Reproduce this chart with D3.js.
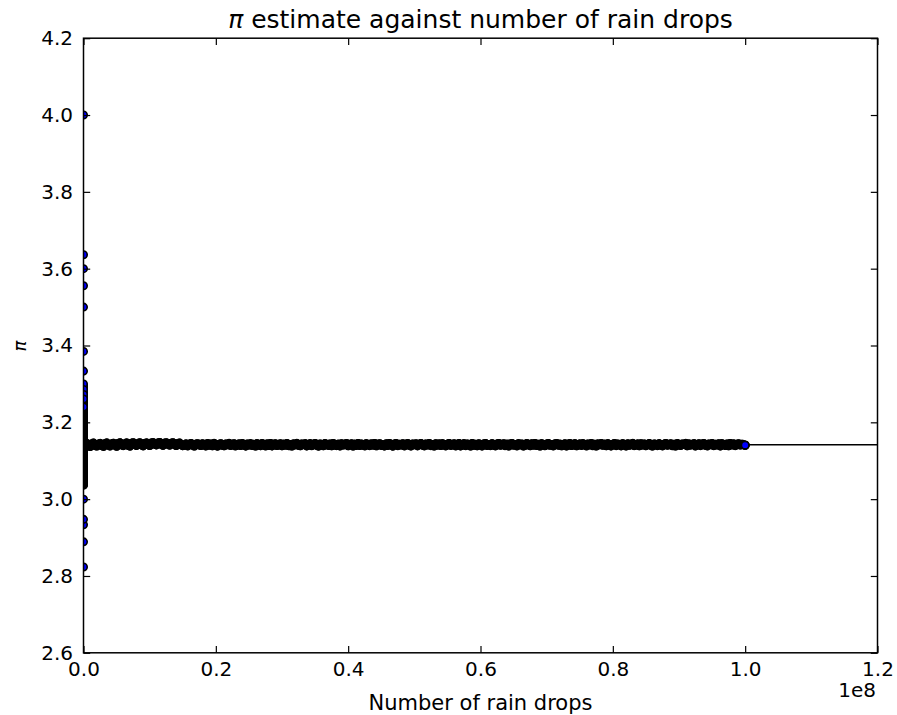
<!DOCTYPE html>
<html><head><meta charset="utf-8">
<script src="https://cdn.jsdelivr.net/npm/d3@7/dist/d3.min.js"></script>
<style>body{margin:0;background:#fff}svg{display:block}</style>
</head><body><svg id="c" width="897" height="715"></svg>
<script>
// ---- data ----
const PI_VALUE = 3.14159;
const xTickValues = [0, 2e7, 4e7, 6e7, 8e7, 1e8, 1.2e8];
const xTickLabels = ["0.0", "0.2", "0.4", "0.6", "0.8", "1.0", "1.2"];
const yTickValues = [2.6, 2.8, 3.0, 3.2, 3.4, 3.6, 3.8, 4.0, 4.2];
const yTickLabels = ["2.6", "2.8", "3.0", "3.2", "3.4", "3.6", "3.8", "4.0", "4.2"];

// first drops: isolated, clearly visible estimates
const sparseN = [1, 4, 6, 8, 9, 10, 11, 13, 15, 17, 18, 19, 20, 21, 22, 23, 25];
const sparseEst = [4.0, 3.0, 3.3333, 3.5, 3.5556, 3.6, 3.6364, 3.3846, 2.9333, 2.8235, 2.8889, 2.9474, 3.3, 3.2857, 3.2727, 3.2609, 3.24];

// early convergence (N up to 1e5, all near x = 0)
const midN = [26,27,28,29,30,32,33,34,36,37,38,39,40,41,42,43,44,45,46,47,48,49,50,52,55,60,65,70,75,80,85,90,95,100,
  110,120,130,140,150,160,170,180,190,200,220,240,260,280,300,330,360,400,450,500,550,600,700,800,900,1000,1200,1400,1600,1800,
  2000,2500,3000,3500,4000,5000,6000,7000,8000,10000,12000,15000,20000,25000,30000,40000,50000,60000,80000,100000];
const midEst = [3.0769,3.1111,3.1429,3.1034,3.2,3.2813,3.037,3.2941,3.2222,3.2432,3.1579,3.2051,3.1,3.2195,3.0476,3.0435,3.0909,3.1111,3.1304,3.0638,
  3.1667,3.2653,3.2,3.0769,3.2727,3.2667,3.2,3.1429,3.0933,3.05,3.0588,3.1111,3.1579,3.2,
  3.2364,3.2,3.1692,3.1143,3.0667,3.075,3.1059,3.1333,3.1789,3.2,3.1818,3.15,3.1231,3.0857,3.0933,3.1152,3.1444,3.17,3.1822,3.168,
  3.1491,3.1267,3.1143,3.125,3.1378,3.152,3.1633,3.1571,3.145,3.1311,3.128,3.1376,3.1493,3.1531,3.147,3.1368,3.1393,3.1457,3.1465,3.1404,
  3.1387,3.1429,3.1452,3.1398,3.1412,3.1427,3.1409,3.1418,3.1422,3.1413];

// long run, N in millions of drops
const bandNMillions = [
  0.25,0.5,0.75,1,1.25,1.5,1.75,2,2.25,2.5,2.75,3,3.25,3.5,3.75,4,4.25,4.5,4.75,5,
  5.25,5.5,5.75,6,6.25,6.5,6.75,7,7.25,7.5,7.75,8,8.25,8.5,8.75,9,9.25,9.5,9.75,10,
  10.25,10.5,10.75,11,11.25,11.5,11.75,12,12.25,12.5,12.75,13,13.25,13.5,13.75,14,14.25,14.5,14.75,15,
  15.25,15.5,15.75,16,16.25,16.5,16.75,17,17.25,17.5,17.75,18,18.25,18.5,18.75,19,19.25,19.5,19.75,20,
  20.25,20.5,20.75,21,21.25,21.5,21.75,22,22.25,22.5,22.75,23,23.25,23.5,23.75,24,24.25,24.5,24.75,25,
  25.25,25.5,25.75,26,26.25,26.5,26.75,27,27.25,27.5,27.75,28,28.25,28.5,28.75,29,29.25,29.5,29.75,30,
  30.25,30.5,30.75,31,31.25,31.5,31.75,32,32.25,32.5,32.75,33,33.25,33.5,33.75,34,34.25,34.5,34.75,35,
  35.25,35.5,35.75,36,36.25,36.5,36.75,37,37.25,37.5,37.75,38,38.25,38.5,38.75,39,39.25,39.5,39.75,40,
  40.25,40.5,40.75,41,41.25,41.5,41.75,42,42.25,42.5,42.75,43,43.25,43.5,43.75,44,44.25,44.5,44.75,45,
  45.25,45.5,45.75,46,46.25,46.5,46.75,47,47.25,47.5,47.75,48,48.25,48.5,48.75,49,49.25,49.5,49.75,50,
  50.25,50.5,50.75,51,51.25,51.5,51.75,52,52.25,52.5,52.75,53,53.25,53.5,53.75,54,54.25,54.5,54.75,55,
  55.25,55.5,55.75,56,56.25,56.5,56.75,57,57.25,57.5,57.75,58,58.25,58.5,58.75,59,59.25,59.5,59.75,60,
  60.25,60.5,60.75,61,61.25,61.5,61.75,62,62.25,62.5,62.75,63,63.25,63.5,63.75,64,64.25,64.5,64.75,65,
  65.25,65.5,65.75,66,66.25,66.5,66.75,67,67.25,67.5,67.75,68,68.25,68.5,68.75,69,69.25,69.5,69.75,70,
  70.25,70.5,70.75,71,71.25,71.5,71.75,72,72.25,72.5,72.75,73,73.25,73.5,73.75,74,74.25,74.5,74.75,75,
  75.25,75.5,75.75,76,76.25,76.5,76.75,77,77.25,77.5,77.75,78,78.25,78.5,78.75,79,79.25,79.5,79.75,80,
  80.25,80.5,80.75,81,81.25,81.5,81.75,82,82.25,82.5,82.75,83,83.25,83.5,83.75,84,84.25,84.5,84.75,85,
  85.25,85.5,85.75,86,86.25,86.5,86.75,87,87.25,87.5,87.75,88,88.25,88.5,88.75,89,89.25,89.5,89.75,90,
  90.25,90.5,90.75,91,91.25,91.5,91.75,92,92.25,92.5,92.75,93,93.25,93.5,93.75,94,94.25,94.5,94.75,95,
  95.25,95.5,95.75,96,96.25,96.5,96.75,97,97.25,97.5,97.75,98,98.25,98.5,98.75,99,99.25,99.5,99.75,100];
const bandEst = [
  3.1392,3.1447,3.1418,3.1371,3.1436,3.1459,3.1402,3.1384,3.1428,3.1451,3.1397,3.1375,3.1441,3.1463,3.1409,3.1387,3.1433,3.1455,3.1412,3.1379,
  3.1448,3.1466,3.1421,3.1394,3.1438,3.1461,3.1405,3.1383,3.1452,3.1469,3.1427,3.1399,3.1443,3.1467,3.1416,3.1389,3.1449,3.1464,3.1431,3.1395,
  3.1458,3.1471,3.1437,3.1412,3.1462,3.1474,3.1429,3.1401,3.1456,3.1468,3.1434,3.1408,3.1453,3.1466,3.1425,3.1398,3.1447,3.1459,3.1419,3.1393,
  3.1402,3.1437,3.1391,3.1426,3.1448,3.1409,3.1385,3.1431,3.1444,3.1413,3.1396,3.1439,3.1421,3.1387,3.1445,3.1406,3.1432,3.1392,3.1447,3.1418,
  3.1384,3.1429,3.1441,3.1403,3.1389,3.1436,3.1415,3.1449,3.1398,3.1424,3.1442,3.1388,3.1411,3.1438,3.1395,3.1446,3.1419,3.1386,3.1433,3.1407,
  3.1443,3.1399,3.1428,3.1385,3.1440,3.1412,3.1393,3.1447,3.1422,3.1390,3.1435,3.1404,3.1448,3.1386,3.1425,3.1443,3.1397,3.1417,3.1439,3.1388,
  3.1430,3.1408,3.1446,3.1394,3.1421,3.1384,3.1437,3.1414,3.1449,3.1401,3.1391,3.1434,3.1420,3.1444,3.1387,3.1410,3.1441,3.1396,3.1427,3.1448,
  3.1405,3.1383,3.1436,3.1418,3.1392,3.1445,3.1423,3.1400,3.1438,3.1389,3.1447,3.1413,3.1395,3.1431,3.1386,3.1442,3.1409,3.1426,3.1448,3.1393,
  3.1416,3.1440,3.1385,3.1429,3.1403,3.1446,3.1398,3.1435,3.1411,3.1388,3.1444,3.1421,3.1394,3.1437,3.1407,3.1449,3.1390,3.1425,3.1442,3.1399,
  3.1414,3.1387,3.1439,3.1404,3.1447,3.1419,3.1384,3.1432,3.1445,3.1396,3.1428,3.1409,3.1443,3.1391,3.1424,3.1448,3.1402,3.1386,3.1436,3.1417,
  3.1440,3.1393,3.1430,3.1446,3.1406,3.1389,3.1434,3.1412,3.1449,3.1397,3.1422,3.1385,3.1441,3.1408,3.1437,3.1395,3.1444,3.1420,3.1388,3.1431,
  3.1447,3.1401,3.1415,3.1439,3.1392,3.1426,3.1445,3.1387,3.1410,3.1442,3.1398,3.1433,3.1419,3.1384,3.1448,3.1405,3.1427,3.1391,3.1440,3.1413,
  3.1386,3.1436,3.1446,3.1400,3.1423,3.1394,3.1443,3.1411,3.1389,3.1432,3.1449,3.1404,3.1418,3.1441,3.1396,3.1429,3.1385,3.1438,3.1447,3.1407,
  3.1421,3.1390,3.1444,3.1414,3.1435,3.1387,3.1402,3.1446,3.1425,3.1393,3.1439,3.1410,3.1448,3.1399,3.1428,3.1384,3.1442,3.1416,3.1395,3.1434,
  3.1445,3.1403,3.1420,3.1388,3.1437,3.1449,3.1406,3.1431,3.1392,3.1413,3.1440,3.1386,3.1426,3.1447,3.1398,3.1419,3.1443,3.1391,3.1409,3.1436,
  3.1401,3.1444,3.1422,3.1389,3.1433,3.1412,3.1448,3.1395,3.1427,3.1385,3.1438,3.1417,3.1446,3.1404,3.1430,3.1392,3.1441,3.1408,3.1387,3.1424,
  3.1447,3.1399,3.1435,3.1414,3.1390,3.1443,3.1421,3.1386,3.1439,3.1405,3.1428,3.1449,3.1396,3.1415,3.1437,3.1388,3.1444,3.1411,3.1432,3.1393,
  3.1420,3.1446,3.1402,3.1384,3.1436,3.1425,3.1397,3.1442,3.1410,3.1389,3.1431,3.1448,3.1406,3.1418,3.1440,3.1394,3.1427,3.1385,3.1445,3.1413,
  3.1399,3.1434,3.1421,3.1447,3.1391,3.1438,3.1407,3.1424,3.1443,3.1387,3.1416,3.1441,3.1398,3.1430,3.1449,3.1403,3.1388,3.1435,3.1419,3.1446,
  3.1395,3.1428,3.1412,3.1439,3.1386,3.1444,3.1422,3.1401,3.1433,3.1390,3.1447,3.1414,3.1437,3.1396,3.1425,3.1442,3.1409,3.1431,3.1418,3.1405];

// ---- build ----
const sparse = sparseN.map((n, i) => ({n: n, v: sparseEst[i]}));
const dense = [];
midN.forEach((n, i) => dense.push({n: n, v: midEst[i]}));
bandNMillions.forEach((m, i) => dense.push({n: m * 1e6, v: bandEst[i]}));
dense.sort((a, b) => a.n - b.n);
const topLayer = sparse.concat([dense[dense.length - 1]]); // last drawn markers stay visible

const svg = d3.select("#c");
const L = 83.5, R = 877.5, T = 38.2, B = 652.8;
const x = d3.scaleLinear().domain([0, 1.2e8]).range([L, R]);
const y = d3.scaleLinear().domain([2.6, 4.2]).range([B, T]);
const FONT = "'DejaVu Sans', sans-serif";
const TICK = 6.7;
const MARKER_R = 3.72, EDGE = 1.6;

svg.append("defs").append("clipPath").attr("id", "plotclip")
  .append("rect").attr("x", L).attr("y", T).attr("width", R - L).attr("height", B - T);

const plot = svg.append("g").attr("clip-path", "url(#plotclip)");

// horizontal pi line
plot.append("line")
  .attr("x1", x(0)).attr("x2", x(1.2e8))
  .attr("y1", y(PI_VALUE)).attr("y2", y(PI_VALUE))
  .attr("stroke", "#000").attr("stroke-width", 1.6);

// dense markers
plot.selectAll("circle.dense").data(dense).enter().append("circle")
  .attr("class", "dense")
  .attr("cx", d => x(d.n)).attr("cy", d => y(d.v))
  .attr("r", MARKER_R)
  .attr("fill", "#0000ff").attr("stroke", "#000").attr("stroke-width", EDGE);

// overlapping marker edges of the dense cloud merge into solid black
plot.append("path").datum(dense)
  .attr("d", d3.line().x(d => x(d.n)).y(d => y(d.v)))
  .attr("fill", "none").attr("stroke", "#000")
  .attr("stroke-width", 2 * MARKER_R + EDGE)
  .attr("stroke-linecap", "round").attr("stroke-linejoin", "round");

// isolated / last markers on top
plot.selectAll("circle.top").data(topLayer).enter().append("circle")
  .attr("class", "top")
  .attr("cx", d => x(d.n)).attr("cy", d => y(d.v))
  .attr("r", MARKER_R)
  .attr("fill", "#0000ff").attr("stroke", "#000").attr("stroke-width", EDGE);

// axes
const xf = d => xTickLabels[xTickValues.indexOf(d)];
const yf = d => yTickLabels[yTickValues.indexOf(d)];

function styleAxis(g) {
  g.select(".domain").remove();
  g.selectAll(".tick line").attr("stroke", "#000").attr("stroke-width", 1.2);
  g.selectAll(".tick text").attr("fill", "#000").style("font-family", FONT).style("font-size", "20px");
}

svg.append("g").attr("transform", `translate(0,${B})`)
  .call(d3.axisBottom(x).tickValues(xTickValues).tickFormat(xf).tickSizeInner(-TICK).tickSizeOuter(0).tickPadding(9.5))
  .call(styleAxis);
svg.append("g").attr("transform", `translate(0,${T})`)
  .call(d3.axisTop(x).tickValues(xTickValues).tickFormat("").tickSizeInner(-TICK).tickSizeOuter(0))
  .call(styleAxis);
svg.append("g").attr("transform", `translate(${L},0)`)
  .call(d3.axisLeft(y).tickValues(yTickValues).tickFormat(yf).tickSizeInner(-TICK).tickSizeOuter(0).tickPadding(10.5))
  .call(styleAxis);
svg.append("g").attr("transform", `translate(${R},0)`)
  .call(d3.axisRight(y).tickValues(yTickValues).tickFormat("").tickSizeInner(-TICK).tickSizeOuter(0))
  .call(styleAxis);

// frame
svg.append("rect").attr("x", L).attr("y", T).attr("width", R - L).attr("height", B - T)
  .attr("fill", "none").attr("stroke", "#000").attr("stroke-width", 1.5);

// title
const title = svg.append("text").attr("x", (L + R) / 2).attr("y", 28)
  .attr("text-anchor", "middle").style("font-family", FONT).style("font-size", "25px").attr("fill", "#000");
title.append("tspan").style("font-style", "italic").text("π");
title.append("tspan").text(" estimate against number of rain drops");

// axis labels
svg.append("text").attr("x", (L + R) / 2).attr("y", 710)
  .attr("text-anchor", "middle").style("font-family", FONT).style("font-size", "21px").attr("fill", "#000")
  .text("Number of rain drops");
svg.append("text").attr("transform", "translate(26,346) rotate(-90)")
  .attr("text-anchor", "middle").style("font-family", FONT).style("font-size", "18px")
  .style("font-style", "italic").attr("fill", "#000").text("π");
svg.append("text").attr("x", 876).attr("y", 697)
  .attr("text-anchor", "end").style("font-family", FONT).style("font-size", "20px").attr("fill", "#000")
  .text("1e8");
</script>
</body></html>
